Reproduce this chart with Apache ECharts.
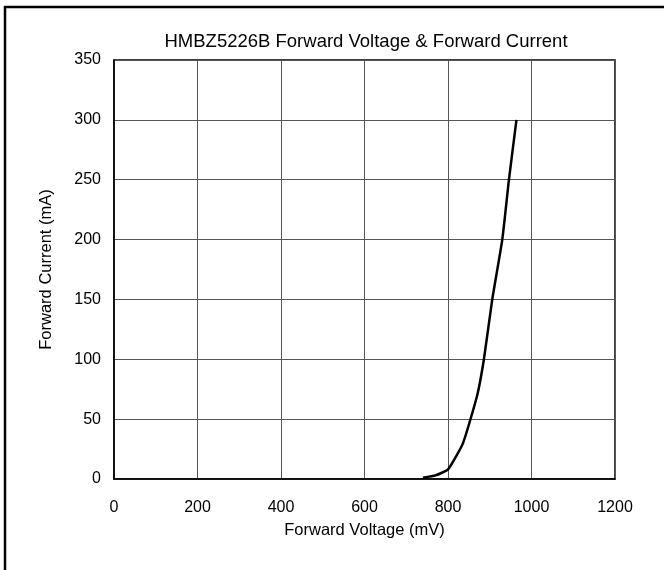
<!DOCTYPE html>
<html>
<head>
<meta charset="utf-8">
<script src="https://cdn.jsdelivr.net/npm/echarts@6/dist/echarts.min.js"></script>
<style>
html,body{margin:0;padding:0;background:#fff;}
#c{width:664px;height:570px;}
</style>
</head>
<body>
<div id="c"></div>
<script>
var voltage = [740, 770, 800, 836, 870, 886, 906, 930, 946, 964];
var current = [1, 3, 8, 30, 70, 100, 150, 200, 250, 300];
var xTicks = [0, 200, 400, 600, 800, 1000, 1200];
var yTicks = [0, 50, 100, 150, 200, 250, 300, 350];

var pts = voltage.map(function (v, i) { return [v, current[i]]; });
var FONT = '"Liberation Sans", Arial, sans-serif';
var chart = echarts.init(document.getElementById('c'), null, {renderer: 'canvas'});
chart.setOption({
  backgroundColor: '#fff',
  animation: false,
  title: {
    text: 'HMBZ5226B Forward Voltage & Forward Current',
    left: 361, top: 27, textAlign: 'center',
    textStyle: {fontFamily: FONT, fontSize: 18.5, fontWeight: 'normal', color: '#000'}
  },
  grid: {left: 114, right: 49, top: 60, bottom: 91, show: true, borderColor: '#000', borderWidth: 1.5},
  xAxis: {
    type: 'value', min: xTicks[0], max: xTicks[xTicks.length - 1], interval: 200,
    name: 'Forward Voltage (mV)', nameLocation: 'middle', nameGap: 43,
    nameTextStyle: {fontFamily: FONT, fontSize: 16.5, color: '#000'},
    axisLine: {show: true, lineStyle: {color: '#000', width: 1.5}},
    axisTick: {show: false},
    axisLabel: {fontFamily: FONT, fontSize: 16, color: '#000', margin: 21,
      formatter: function (v) { return String(v); }},
    splitLine: {show: true, lineStyle: {color: '#555', width: 1}}
  },
  yAxis: {
    type: 'value', min: yTicks[0], max: yTicks[yTicks.length - 1], interval: 50,
    name: 'Forward Current (mA)', nameLocation: 'middle', nameGap: 59,
    nameTextStyle: {fontFamily: FONT, fontSize: 16.5, color: '#000'},
    axisLine: {show: true, lineStyle: {color: '#000', width: 1.5}},
    axisTick: {show: false},
    axisLabel: {fontFamily: FONT, fontSize: 16, color: '#000', margin: 13,
      formatter: function (v) { return String(v); }},
    splitLine: {show: true, lineStyle: {color: '#555', width: 1}}
  },
  series: [{
    type: 'line', data: pts, showSymbol: false, smooth: 0.15,
    lineStyle: {color: '#000', width: 2.5}
  }],
  graphic: [
    {type: 'line', shape: {x1: 4, y1: 7, x2: 664, y2: 7}, style: {stroke: '#000', lineWidth: 2.5}},
    {type: 'line', shape: {x1: 5, y1: 6, x2: 5, y2: 570}, style: {stroke: '#000', lineWidth: 2.5}}
  ]
});
</script>
</body>
</html>
